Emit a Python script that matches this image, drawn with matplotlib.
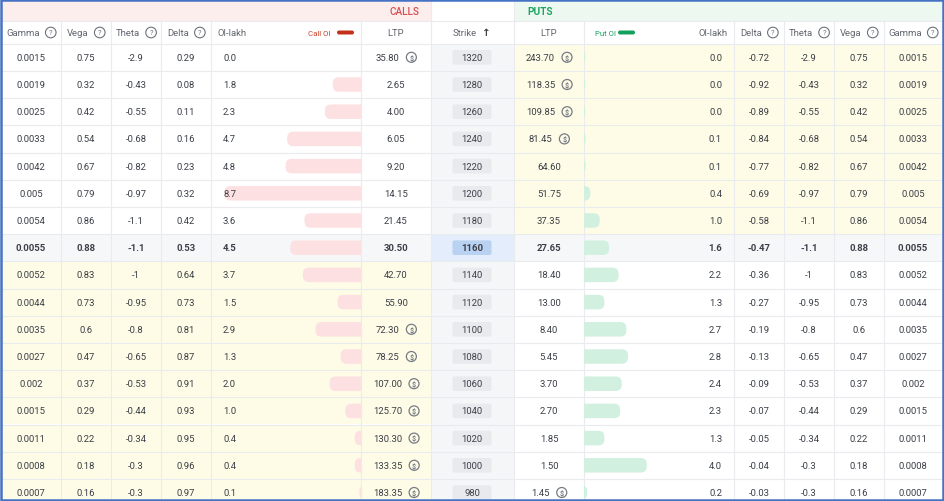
import matplotlib
matplotlib.use('Agg')
import matplotlib.pyplot as plt
from matplotlib.patches import Rectangle, FancyBboxPatch, Circle

plt.rcParams['font.family'] = ['Roboto', 'DejaVu Sans']

# Data

strikes = [1320, 1280, 1260, 1240, 1220, 1200, 1180, 1160, 1140, 1120, 1100, 1080, 1060, 1040, 1020, 1000, 980]
atm_strike = 1160

call_gamma = [0.0015, 0.0019, 0.0025, 0.0033, 0.0042, 0.005, 0.0054, 0.0055, 0.0052, 0.0044, 0.0035, 0.0027, 0.002, 0.0015, 0.0011, 0.0008, 0.0007]
call_vega = [0.75, 0.32, 0.42, 0.54, 0.67, 0.79, 0.86, 0.88, 0.83, 0.73, 0.6, 0.47, 0.37, 0.29, 0.22, 0.18, 0.16]
call_theta = [-2.9, -0.43, -0.55, -0.68, -0.82, -0.97, -1.1, -1.1, -1, -0.95, -0.8, -0.65, -0.53, -0.44, -0.34, -0.3, -0.3]
call_delta = [0.29, 0.08, 0.11, 0.16, 0.23, 0.32, 0.42, 0.53, 0.64, 0.73, 0.81, 0.87, 0.91, 0.93, 0.95, 0.96, 0.97]
call_oi = [0.0, 1.8, 2.3, 4.7, 4.8, 8.7, 3.6, 4.5, 3.7, 1.5, 2.9, 1.3, 2.0, 1.0, 0.4, 0.4, 0.1]
call_ltp = [35.80, 2.65, 4.00, 6.05, 9.20, 14.15, 21.45, 30.50, 42.70, 55.90, 72.30, 78.25, 107.00, 125.70, 130.30, 133.35, 183.35]
call_flag = [1, 0, 0, 0, 0, 0, 0, 0, 0, 0, 1, 1, 1, 1, 1, 1, 1]

put_ltp = [243.70, 118.35, 109.85, 81.45, 64.60, 51.75, 37.35, 27.65, 18.40, 13.00, 8.40, 5.45, 3.70, 2.70, 1.85, 1.50, 1.45]
put_flag = [1, 1, 1, 1, 0, 0, 0, 0, 0, 0, 0, 0, 0, 0, 0, 0, 1]
put_oi = [0.0, 0.0, 0.0, 0.1, 0.1, 0.4, 1.0, 1.6, 2.2, 1.3, 2.7, 2.8, 2.4, 2.3, 1.3, 4.0, 0.2]
put_delta = [-0.72, -0.92, -0.89, -0.84, -0.77, -0.69, -0.58, -0.47, -0.36, -0.27, -0.19, -0.13, -0.09, -0.07, -0.05, -0.04, -0.03]
put_theta = [-2.9, -0.43, -0.55, -0.68, -0.82, -0.97, -1.1, -1.1, -1, -0.95, -0.8, -0.65, -0.53, -0.44, -0.34, -0.3, -0.3]
put_vega = [0.75, 0.32, 0.42, 0.54, 0.67, 0.79, 0.86, 0.88, 0.83, 0.73, 0.6, 0.47, 0.37, 0.29, 0.22, 0.18, 0.16]
put_gamma = [0.0015, 0.0019, 0.0025, 0.0033, 0.0042, 0.005, 0.0054, 0.0055, 0.0052, 0.0044, 0.0035, 0.0027, 0.002, 0.0015, 0.0011, 0.0008, 0.0007]

# Layout (pixels)

W, H = 944, 502
row_h = 27.2
row0 = 44.7
head_top, head_mid = 2, 22
vlines = [61, 111, 161, 211, 361, 431, 514, 584, 734, 784, 834, 884]
call_x = {'gamma': 31, 'vega': 86, 'theta': 136, 'delta': 186, 'oi': 223, 'bar': 361, 'ltp': 396}
put_x = {'ltp': 549, 'bar': 584, 'oi': 722, 'delta': 759, 'theta': 809, 'vega': 859, 'gamma': 913}
strike_x = 472
bar_scale = 15.7

TXT = '#3b3f47'
HDR = '#62666f'
GRID = '#e9ebef'
ITM = '#fefce6'
FS = 6.8

fig = plt.figure(figsize=(W / 100, H / 100), dpi=100)
ax = fig.add_axes([0, 0, 1, 1])
ax.set_xlim(0, W)
ax.set_ylim(H, 0)
ax.axis('off')
renderer = fig.canvas.get_renderer()


def rect(x0, y0, x1, y1, color, z=0):
    ax.add_patch(Rectangle((x0, y0), x1 - x0, y1 - y0, facecolor=color, edgecolor='none', zorder=z))


def q_icon(x, y):
    ax.add_patch(Circle((x, y), 5.3, facecolor='none', edgecolor='#6d717a', lw=0.8, zorder=5))
    ax.text(x, y + 0.3, '?', fontsize=5.3, color='#6d717a', ha='center', va='center', zorder=6)


def coin_icon(x, y):
    ax.add_patch(Circle((x, y), 5, facecolor='none', edgecolor='#777b84', lw=0.9, zorder=5))
    ax.text(x, y + 0.3, '$', fontsize=5, color='#777b84', ha='center', va='center', zorder=6,
            fontweight='bold')


def text_w(t):
    return t.get_window_extent(renderer).width


def label_with(x, y, s, icon, weight='normal', color=TXT, fs=FS, gap=6, iw=10.6):
    t = ax.text(x, y, s, fontsize=fs, color=color, ha='left', va='center', fontweight=weight, zorder=6)
    w = text_w(t)
    left = x - (w + gap + iw) / 2
    t.set_x(left)
    icon(left + w + gap + iw / 2, y)


# background
rect(0, 0, W, H, 'white', -2)
rect(head_top, head_top, 431, head_mid, '#fdeeee', -1)
rect(514, head_top, W - 2, head_mid, '#edf8f1', -1)
ax.text(404, 12, 'CALLS', fontsize=7.2, color='#d94c4f', ha='center', va='center', fontweight='medium')
ax.text(527, 12, 'PUTS', fontsize=7.2, color='#1fa463', ha='left', va='center', fontweight='bold')

# strike column background
rect(431, row0, 514, H, '#f5f6f8', -1)

# row backgrounds
for i, k in enumerate(strikes):
    y0 = row0 + i * row_h
    if k == atm_strike:
        rect(2, y0, W - 2, y0 + row_h, '#f6f7f9', -1)
        rect(431, y0, 514, y0 + row_h, '#e3edfb', -1)
    elif k < atm_strike:
        rect(2, y0, 431, y0 + row_h, ITM, -1)
    else:
        rect(514, y0, W - 2, y0 + row_h, ITM, -1)

# grid lines
ax.plot([2, W - 2], [head_mid, head_mid], color=GRID, lw=0.8, zorder=1)
for i in range(len(strikes) + 1):
    y = row0 + i * row_h
    ax.plot([2, W - 2], [y, y], color=GRID, lw=0.8, zorder=1)
for x in vlines:
    ax.plot([x, x], [head_mid, H], color=GRID, lw=0.8, zorder=1)
ax.plot([431, 431], [head_top, head_mid], color=GRID, lw=0.8, zorder=1)
ax.plot([514, 514], [head_top, head_mid], color=GRID, lw=0.8, zorder=1)

# column headers
hy = 33.5
for key, name in [('gamma', 'Gamma'), ('vega', 'Vega'), ('theta', 'Theta'), ('delta', 'Delta')]:
    label_with(call_x[key], hy, name, q_icon, color=HDR, iw=10.6)
    label_with(put_x[key], hy, name, q_icon, color=HDR, iw=10.6)
ax.text(217, hy, 'OI-lakh', fontsize=FS, color=HDR, ha='left', va='center')
ax.text(728, hy, 'OI-lakh', fontsize=FS, color=HDR, ha='right', va='center')
ax.text(call_x['ltp'], hy, 'LTP', fontsize=FS, color=HDR, ha='center', va='center')
ax.text(put_x['ltp'], hy, 'LTP', fontsize=FS, color=HDR, ha='center', va='center')
ax.text(477, hy, 'Strike', fontsize=FS, color=HDR, ha='right', va='center')
ax.text(486, hy, '\u2191', fontsize=7.5, color='#3b3f47', ha='center', va='center',
        family='DejaVu Sans', fontweight='bold')
ax.text(331, hy, 'Call OI', fontsize=5.6, color='#c9402a', ha='right', va='center')
ax.add_patch(FancyBboxPatch((337, hy - 2), 17, 4, boxstyle='round,pad=0,rounding_size=2',
                            facecolor='#c3301a', edgecolor='none', zorder=4))
ax.text(595, hy, 'Put OI', fontsize=5.6, color='#17a05d', ha='left', va='center')
ax.add_patch(FancyBboxPatch((618, hy - 2), 17, 4, boxstyle='round,pad=0,rounding_size=2',
                            facecolor='#12a05a', edgecolor='none', zorder=4))

# rows
for i, k in enumerate(strikes):
    yc = row0 + i * row_h + row_h / 2
    wt = 'bold' if k == atm_strike else 'normal'

    def cell(x, s, ha='center'):
        ax.text(x, yc, s, fontsize=FS, color=TXT, ha=ha, va='center', fontweight=wt, zorder=6)

    cell(call_x['gamma'], f'{call_gamma[i]:g}')
    cell(call_x['vega'], f'{call_vega[i]:g}')
    cell(call_x['theta'], f'{call_theta[i]:g}')
    cell(call_x['delta'], f'{call_delta[i]:g}')
    cell(call_x['oi'], f'{call_oi[i]:.1f}', ha='left')

    cell(put_x['oi'], f'{put_oi[i]:.1f}', ha='right')
    cell(put_x['delta'], f'{put_delta[i]:g}')
    cell(put_x['theta'], f'{put_theta[i]:g}')
    cell(put_x['vega'], f'{put_vega[i]:g}')
    cell(put_x['gamma'], f'{put_gamma[i]:g}')

    if call_flag[i]:
        label_with(call_x['ltp'], yc, f'{call_ltp[i]:.2f}', coin_icon, weight=wt, gap=7, iw=10)
    else:
        cell(call_x['ltp'], f'{call_ltp[i]:.2f}')
    if put_flag[i]:
        label_with(put_x['ltp'], yc, f'{put_ltp[i]:.2f}', coin_icon, weight=wt, gap=7, iw=10)
    else:
        cell(put_x['ltp'], f'{put_ltp[i]:.2f}')

    # OI bars, rounded only at the far end (the near end is clipped at the column line)
    bh = 14.5
    cw = call_oi[i] * bar_scale
    if cw > 0:
        b = FancyBboxPatch((call_x['bar'] - cw, yc - bh / 2), cw + 10, bh,
                           boxstyle='round,pad=0,rounding_size=%.1f' % min(6, (cw + 10) / 2),
                           facecolor='#fde0e2', edgecolor='none', zorder=2)
        ax.add_patch(b)
        b.set_clip_path(Rectangle((211, 0), 150, H, transform=ax.transData))
    pw = max(put_oi[i] * bar_scale, 1.2)
    b = FancyBboxPatch((put_x['bar'] - 10, yc - bh / 2), pw + 10, bh,
                       boxstyle='round,pad=0,rounding_size=%.1f' % min(6, (pw + 10) / 2),
                       facecolor='#d2f0e0', edgecolor='none', zorder=2)
    ax.add_patch(b)
    b.set_clip_path(Rectangle((584, 0), 150, H, transform=ax.transData))

    # strike box
    box_c = '#bad2f1' if k == atm_strike else '#e8eaee'
    ax.add_patch(FancyBboxPatch((strike_x - 19.5, yc - 7.3), 39, 14.6,
                                boxstyle='round,pad=0,rounding_size=2',
                                facecolor=box_c, edgecolor='none', zorder=3))
    cell(strike_x, str(k))

# outer blue frame
ax.add_patch(Rectangle((1, 1), W - 2, H - 2, facecolor='none', edgecolor='#4472c4', lw=1.8, zorder=10))

fig.savefig('out.png', dpi=100)
